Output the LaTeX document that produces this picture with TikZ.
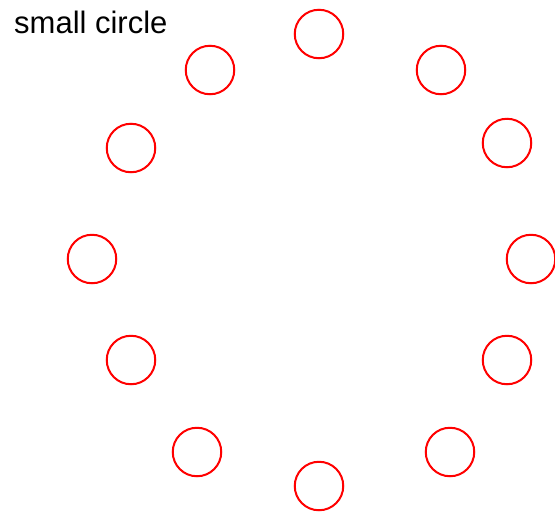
\documentclass[tikz,border=0pt]{standalone}
\usepackage{fontspec}
\setmainfont{Liberation Sans}
\tikzset{ring/.style={draw=red,circle,line width=2pt,minimum size=48.5pt,inner sep=0pt}}

\begin{document}
\begin{tikzpicture}[x=1pt,y=-1pt]
  \useasboundingbox (0,0) rectangle (555,515);
  \node[anchor=base west,inner sep=0pt,font=\fontsize{31}{36}\selectfont] (title) at (14,33) {small circle};
  \node[ring] (c1) at (319,34) {}; \node[ring] (c2) at (441,70) {};
  \node[ring] (c3) at (507,143) {}; \node[ring] (c4) at (531,259) {};
  \node[ring] (c5) at (507,360) {}; \node[ring] (c6) at (450,452) {};
  \node[ring] (c7) at (319,486) {}; \node[ring] (c8) at (197,452) {};
  \node[ring] (c9) at (131,360) {}; \node[ring] (c10) at (92,259) {};
  \node[ring] (c11) at (131,148) {}; \node[ring] (c12) at (210,70) {};
\end{tikzpicture}
\end{document}
